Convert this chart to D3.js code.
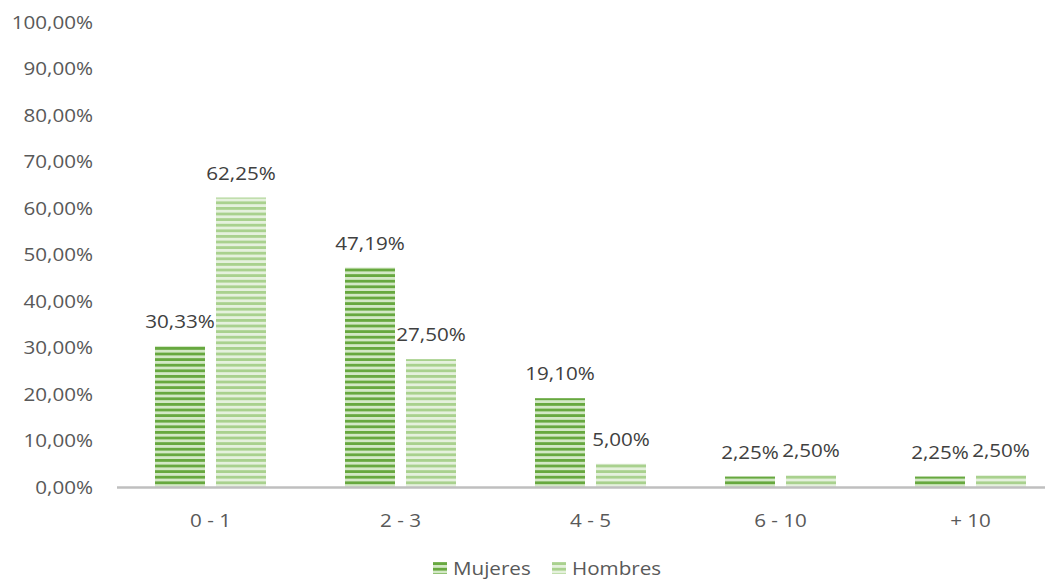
<!DOCTYPE html>
<html>
<head>
<meta charset="utf-8">
<script src="https://cdn.jsdelivr.net/npm/d3@7"></script>
<style>
  html, body { margin: 0; padding: 0; background: #fff; }
  svg { display: block; font-family: "Open Sans", "Lato", sans-serif; }
</style>
</head>
<body>
<svg id="chart" width="1051" height="581"></svg>
<script>
// Age ranges (years) and share of each group
const categories = ["0 - 1", "2 - 3", "4 - 5", "6 - 10", "+ 10"];
const seriesNames = ["Mujeres", "Hombres"];
const mujeres = [30.33, 47.19, 19.10, 2.25, 2.25];
const hombres = [62.25, 27.50, 5.00, 2.50, 2.50];
const yTicks = [0, 10, 20, 30, 40, 50, 60, 70, 80, 90, 100];

const values = { Mujeres: mujeres, Hombres: hombres };
const fmt = v => v.toFixed(2).replace(".", ",") + "%";

const FONT = 19;      // text size
const WIDEN = 1.085;  // horizontal widening of the lettering

const svg = d3.select("#chart");

const x0 = d3.scaleBand().domain(categories).range([115.5, 1065.5]).padding(0);
const x1 = d3.scaleBand().domain(seriesNames)
  .range([39.5, 150.5]).paddingInner(0.1803).paddingOuter(0);
const y = d3.scaleLinear().domain([0, 100]).range([487, 22]);

// Places a text anchored at (x, y), widened horizontally around its anchor
function label(sel, x, y, anchor, fill) {
  const g = sel.append("g")
    .attr("transform", d => `translate(${x(d)},${y(d)}) scale(${WIDEN},1)`);
  return g.append("text")
    .attr("text-anchor", anchor)
    .attr("fill", fill)
    .attr("font-size", FONT);
}

// Striped fills for the two series
const defs = svg.append("defs");
const stripes = {
  Mujeres: { dark: "#67a83f", light: "#d3e8c6" },
  Hombres: { dark: "#a9d18e", light: "#e5f1dd" }
};
seriesNames.forEach(s => {
  const p = defs.append("pattern")
    .attr("id", "pat-" + s)
    .attr("patternUnits", "userSpaceOnUse")
    .attr("x", 0).attr("y", y(0))
    .attr("width", 8).attr("height", 5.6);
  p.append("rect").attr("width", 8).attr("height", 5.6).attr("fill", stripes[s].light);
  p.append("rect").attr("y", 0).attr("width", 8).attr("height", 2.8).attr("fill", stripes[s].dark);
});

// Y axis tick labels
const yLab = svg.append("g").selectAll("g")
  .data(yTicks).join("g");
label(yLab, () => 93, d => y(d), "end", "#595959")
  .attr("dy", "0.35em")
  .text(d => fmt(d));

// Bars
const groups = svg.append("g").selectAll("g")
  .data(categories).join("g")
  .attr("transform", d => `translate(${x0(d)},0)`);

const cells = (c, i) => seriesNames.map(s => ({ s, v: values[s][i] }));

groups.selectAll("rect")
  .data(cells)
  .join("rect")
  .attr("x", d => x1(d.s))
  .attr("width", x1.bandwidth())
  .attr("y", d => y(d.v))
  .attr("height", d => y(0) - y(d.v))
  .attr("fill", d => `url(#pat-${d.s})`);

// Value labels
const vals = groups.selectAll("g.val")
  .data(cells)
  .join("g").attr("class", "val");
label(vals, d => x1(d.s) + x1.bandwidth() / 2, d => y(d.v) - 18, "middle", "#404040")
  .text(d => fmt(d.v));

// Horizontal category axis
svg.append("line")
  .attr("x1", 117).attr("x2", 1045)
  .attr("y1", y(0) + 0.5).attr("y2", y(0) + 0.5)
  .attr("stroke", "#bfbfbf").attr("stroke-width", 2.5);

const xLab = svg.append("g").selectAll("g")
  .data(categories).join("g");
label(xLab, d => x0(d) + x0.bandwidth() / 2, () => 520, "middle", "#595959")
  .attr("dy", "0.35em")
  .text(d => d);

// Legend
const legendX = { Mujeres: 433, Hombres: 552 };
const leg = svg.append("g").selectAll("g")
  .data(seriesNames).join("g")
  .attr("transform", d => `translate(${legendX[d]},568)`);
leg.append("rect")
  .attr("x", 0).attr("y", -6).attr("width", 14).attr("height", 12)
  .attr("fill", d => `url(#pat-${d})`);
label(leg, () => 20, () => 0, "start", "#595959")
  .attr("dy", "0.35em")
  .text(d => d);
</script>
</body>
</html>
